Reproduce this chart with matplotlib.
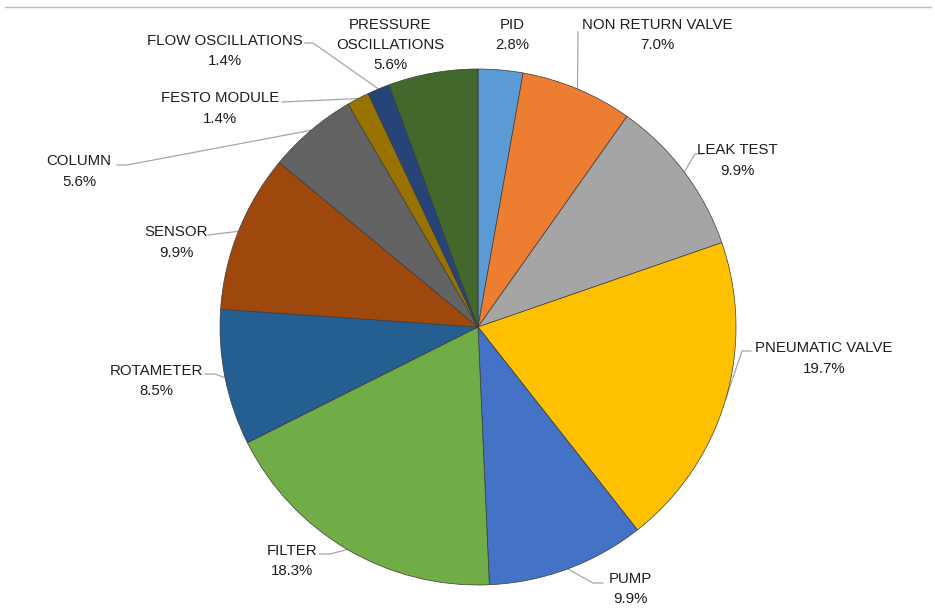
import numpy as np
import matplotlib
matplotlib.use('Agg')
import matplotlib.pyplot as plt

plt.rcParams['font.family'] = ['Liberation Sans', 'DejaVu Sans']

# slices, clockwise from 12 o'clock
labels = ['PID', 'NON RETURN VALVE', 'LEAK TEST', 'PNEUMATIC VALVE', 'PUMP', 'FILTER',
          'ROTAMETER', 'SENSOR', 'COLUMN', 'FESTO MODULE', 'FLOW OSCILLATIONS',
          'PRESSURE\nOSCILLATIONS']
shares = [2.8, 7.0, 9.9, 19.7, 9.9, 18.3, 8.5, 9.9, 5.6, 1.4, 1.4, 5.6]
colors = ['#5B9BD5', '#ED7D31', '#A5A5A5', '#FFC000', '#4472C4', '#70AD47',
          '#255E91', '#9E480E', '#636363', '#997300', '#264478', '#43682B']

W, H = 935, 609
cx, cy, r = 478, 327, 258


def fy(y):
    # pixel rows counted from the top -> axis units
    return H - y


# centre of each label block (px from top-left)
label_pos = [(512, 35), (657, 35), (737, 160.5), (824, 358.5), (630, 589), (292, 561),
             (156, 381), (176, 242.5), (79, 171.5), (220, 108.5), (225, 51), (390, 45)]
# leader line points near the label; the last point is the slice edge (added below)
leader_pts = [None,
              [(578, 32)],
              [(703, 154), (695, 154)],
              [(751, 351), (742, 351)],
              [(603, 583), (593, 583)],
              [(319, 554), (330, 554)],
              [(205, 374), (215, 374)],
              [(208, 235)],
              [(117, 165), (127, 165)],
              [(282, 102)],
              [(305, 43), (313, 43)],
              None]

fig = plt.figure(figsize=(W / 100, H / 100), dpi=100)
ax = fig.add_axes([0, 0, 1, 1])

wedges, _ = ax.pie(shares, colors=colors, startangle=90, counterclock=False,
                   center=(cx, fy(cy)), radius=r,
                   wedgeprops=dict(edgecolor='#3a3a3a', linewidth=0.5))

for w, name, val, pos, pts in zip(wedges, labels, shares, label_pos, leader_pts):
    ax.text(pos[0], fy(pos[1]), f'{name}\n{val:.1f}%', ha='center', va='center',
            multialignment='center', fontsize=10.8, linespacing=1.55, color='#1e1e1e')
    if pts is None:
        continue
    mid = np.deg2rad((w.theta1 + w.theta2) / 2)
    ex = cx + r * np.cos(mid)
    ey = fy(cy) + r * np.sin(mid)
    xs = [p[0] for p in pts] + [ex]
    ys = [fy(p[1]) for p in pts] + [ey]
    ax.plot(xs, ys, color='#a6a6a6', lw=0.9, zorder=0.5)

ax.plot([5, 931], [fy(7), fy(7)], color='#c0c0c0', lw=1)

ax.set_xlim(0, W)
ax.set_ylim(0, H)
ax.set_aspect('equal')
ax.axis('off')

fig.savefig('out.png', dpi=100)
